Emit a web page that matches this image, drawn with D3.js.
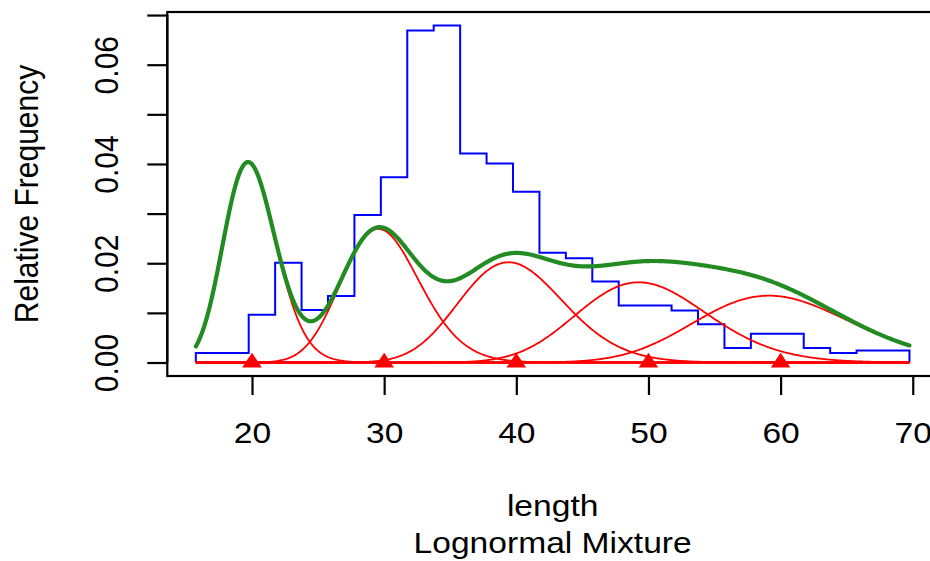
<!DOCTYPE html>
<html>
<head>
<meta charset="utf-8">
<script src="https://cdn.jsdelivr.net/npm/d3@7"></script>
<style>
  html, body { margin: 0; padding: 0; background: #fff; }
  svg { display: block; font-family: "Liberation Sans", Arial, sans-serif; }
</style>
</head>
<body>
<svg id="chart" width="930" height="561"></svg>
<script>
// Length-frequency histogram (bin edges and relative frequencies)
const binEdges = [15.75, 19.75, 21.75, 23.75, 25.75, 27.75, 29.75, 31.75, 33.75,
                  35.75, 37.75, 39.75, 41.75, 43.75, 45.75, 47.75, 49.75, 51.75,
                  53.75, 55.75, 57.75, 59.75, 61.75, 63.75, 65.75, 69.75];
const binFreq = [0.0019, 0.0096, 0.0201, 0.0106, 0.0134, 0.0297, 0.0373, 0.0669,
                 0.0679, 0.0421, 0.0401, 0.0344, 0.0221, 0.0210, 0.0163, 0.0115,
                 0.0115, 0.0105, 0.0077, 0.0029, 0.0058, 0.0058, 0.0029, 0.0019,
                 0.0024];

// Fitted lognormal mixture: proportions, means and standard deviations
const compPi    = [0.2, 0.2, 0.2, 0.2, 0.2];
const compMu    = [20, 30, 40, 50, 60];
const compSigma = [2, 3, 4, 5, 6];

// Axis ticks and titles
const xTicks = [20, 30, 40, 50, 60, 70];
const yTicks = [0.00, 0.01, 0.02, 0.03, 0.04, 0.05, 0.06, 0.07];
const yTickLabels = ["0.00", "", "0.02", "", "0.04", "", "0.06", ""];
const xTitle = "length";
const subTitle = "Lognormal Mixture";
const yTitle = "Relative Frequency";

const svg = d3.select("#chart");
const plot = { left: 167.3, right: 938, top: 12, bottom: 376 };
const fontSize = 30;
const stretch = 1.12;   // glyphs are drawn slightly wide

// R-style 4% padding around the data range
function pad(lo, hi) { const d = (hi - lo) * 0.04; return [lo - d, hi + d]; }
const xLo = binEdges[0], xHi = binEdges[binEdges.length - 1];
const x = d3.scaleLinear().domain(pad(xLo, xHi)).range([plot.left, plot.right]);
const y = d3.scaleLinear().domain(pad(0, d3.max(binFreq))).range([plot.bottom, plot.top]);

// Lognormal density parameterised by mean and sd
function dlnormMS(v, mu, sigma) {
  const s2 = Math.log(1 + (sigma / mu) * (sigma / mu));
  const m = Math.log(mu) - s2 / 2;
  const z = Math.log(v) - m;
  return Math.exp(-z * z / (2 * s2)) / (v * Math.sqrt(2 * Math.PI * s2));
}

const grid = d3.range(0, 601).map(i => xLo + (xHi - xLo) * i / 600);

// Histogram outline
let hp = d3.path();
hp.moveTo(x(binEdges[0]), y(0));
binFreq.forEach((f, i) => {
  hp.lineTo(x(binEdges[i]), y(f));
  hp.lineTo(x(binEdges[i + 1]), y(f));
});
hp.lineTo(x(xHi), y(0));
svg.append("path").attr("d", hp.toString())
  .attr("fill", "none").attr("stroke", "#0000ff").attr("stroke-width", 2)
  .attr("stroke-linejoin", "miter");

// Component curves
const line = d3.line().x(d => x(d[0])).y(d => y(d[1]));
compMu.forEach((mu, k) => {
  const pts = grid.map(v => [v, compPi[k] * dlnormMS(v, mu, compSigma[k])]);
  svg.append("path").attr("d", line(pts))
    .attr("fill", "none").attr("stroke", "#ff0000").attr("stroke-width", 1.8);
});
// baseline of the component curves
svg.append("path").attr("d", line([[xLo, 0], [xHi, 0]]))
  .attr("fill", "none").attr("stroke", "#ff0000").attr("stroke-width", 2.4);

// Mixture density
const mixPts = grid.map(v => [v, d3.sum(compMu, (mu, k) => compPi[k] * dlnormMS(v, mu, compSigma[k]))]);
svg.append("path").attr("d", line(mixPts))
  .attr("fill", "none").attr("stroke", "#228b22").attr("stroke-width", 4.2)
  .attr("stroke-linecap", "round").attr("stroke-linejoin", "round");

// Component mean markers
svg.selectAll("path.mean").data(compMu).enter().append("path")
  .attr("class", "mean")
  .attr("transform", d => `translate(${x(d)},${y(0)})`)
  .attr("d", "M0,-9.8L9.8,5L-9.8,5Z")
  .attr("fill", "#ff0000");

// Plot box
svg.append("rect")
  .attr("x", plot.left).attr("y", plot.top)
  .attr("width", plot.right - plot.left).attr("height", plot.bottom - plot.top)
  .attr("fill", "none").attr("stroke", "#000").attr("stroke-width", 2.2);

// Axes
const xAxis = d3.axisBottom(x).tickValues(xTicks).tickSize(19).tickPadding(0).tickFormat(d3.format("d"));
const gx = svg.append("g").attr("transform", `translate(0,${plot.bottom})`).call(xAxis);
gx.select(".domain").attr("stroke-width", 2.2).attr("d", `M${x(xTicks[0])},0H${x(xTicks[xTicks.length - 1])}`);
gx.selectAll(".tick line").attr("stroke-width", 2.2);
gx.selectAll(".tick text").attr("y", null).attr("dy", null)
  .attr("transform", `translate(0,67) scale(${stretch},1)`)
  .attr("font-size", fontSize).attr("font-family", "Liberation Sans, Arial, sans-serif")
  .attr("fill", "#000");

const yAxis = d3.axisLeft(y).tickValues(yTicks).tickSize(20).tickPadding(0)
  .tickFormat((d, i) => yTickLabels[i]);
const gy = svg.append("g").attr("transform", `translate(${plot.left},0)`).call(yAxis);
gy.select(".domain").attr("stroke-width", 2.2).attr("d", `M0,${y(yTicks[0])}V${y(yTicks[yTicks.length - 1])}`);
gy.selectAll(".tick line").attr("stroke-width", 2.2);
gy.selectAll(".tick text")
  .attr("x", null).attr("dy", null)
  .attr("text-anchor", "middle")
  .attr("transform", `translate(-49,0) scale(${stretch},1) rotate(-90)`)
  .attr("font-size", fontSize).attr("font-family", "Liberation Sans, Arial, sans-serif")
  .attr("fill", "#000");

// Titles
const cx = (plot.left + plot.right) / 2;
svg.append("text").attr("transform", `translate(${cx},516) scale(${stretch},1)`)
  .attr("text-anchor", "middle").attr("font-size", fontSize).text(xTitle);
svg.append("text").attr("transform", `translate(${cx},553) scale(${stretch},1)`)
  .attr("text-anchor", "middle").attr("font-size", fontSize).text(subTitle);
svg.append("text")
  .attr("transform", `translate(38,${(plot.top + plot.bottom) / 2}) scale(${stretch},1) rotate(-90)`)
  .attr("text-anchor", "middle").attr("font-size", fontSize).text(yTitle);
</script>
</body>
</html>
